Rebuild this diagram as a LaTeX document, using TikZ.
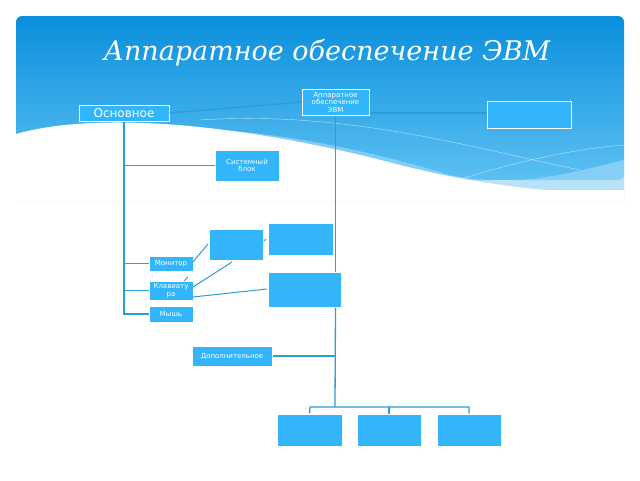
\documentclass[tikz,border=0pt]{standalone}
\usepackage{fontspec}
\setmainfont{DejaVu Sans}
\newfontfamily\titlefont{DejaVu Serif}
\definecolor{boxblue}{HTML}{33B5FC}
\definecolor{lineblue}{HTML}{2E9CD6}
\definecolor{topblue}{HTML}{0A8FDC}
\definecolor{midblue}{HTML}{5CC0F2}
\definecolor{band}{HTML}{9AD6F8}
\begin{document}
\begin{tikzpicture}[x=1pt,y=-1pt,
  bx/.style={draw=white,line width=1pt,fill=boxblue,text=white,inner sep=0pt,align=center,font=\fontsize{7}{7.5}\selectfont},
  ln/.style={draw=lineblue,line width=1.3pt}]
\useasboundingbox (0,0) rectangle (640,480);
\fill[white] (0,0) rectangle (640,480);
% header
\shade[top color=topblue,bottom color=midblue,rounded corners=6pt]
 (16,180) -- (16,16) -- (624,16) -- (624,180) -- cycle;
\fill[band,opacity=0.7] (16,150) .. controls (150,110) and (300,130) .. (450,175) .. controls (520,190) and (580,170) .. (624,160) -- (624,200) -- (16,200) -- cycle;
\fill[white] (16,134) .. controls (100,110) and (250,125) .. (400,165) .. controls (480,185) and (560,195) .. (624,192) -- (624,200) -- (16,200) -- cycle;
\fill[white] (16,190) rectangle (624,200);
\draw[white,opacity=0.6] (200,120) .. controls (350,110) and (480,150) .. (580,170);
\draw[white,opacity=0.6] (400,200) .. controls (480,170) and (560,150) .. (624,145);
\node[text=white,font=\titlefont\itshape\fontsize{27}{30}\selectfont] (title) at (327,53) {Аппаратное обеспечение ЭВМ};
% nodes
\node[bx,minimum width=90,minimum height=16,font=\fontsize{12}{13}\selectfont] (osn) at (124,113) {Основное};
\node[bx,minimum width=67,minimum height=26] (hw) at (335.5,102) {Аппаратное\\обеспечение\\ЭВМ};
\node[bx,minimum width=84,minimum height=27] (r) at (529,114.5) {};
\node[bx,minimum width=64,minimum height=31] (sys) at (247,165.5) {Системный\\блок};
\node[bx,minimum width=54,minimum height=31] (a) at (236,244.5) {};
\node[bx,minimum width=65,minimum height=32] (b) at (300.5,239) {};
\node[bx,minimum width=44,minimum height=15] (mon) at (171,263.5) {Монитор};
\node[bx,minimum width=44,minimum height=19] (kl) at (171,290.5) {Клавиату\\ра};
\node[bx,minimum width=73,minimum height=35] (c) at (304.5,289.5) {};
\node[bx,minimum width=44,minimum height=16] (mouse) at (171,314) {Мышь};
\node[bx,minimum width=80,minimum height=20] (dop) at (232,356) {Дополнительное};
\node[bx,minimum width=65,minimum height=32] (b1) at (309.5,430) {};
\node[bx,minimum width=64,minimum height=32] (b2) at (389,430) {};
\node[bx,minimum width=64,minimum height=32] (b3) at (469,430) {};
\coordinate (j) at (124,314);
\coordinate (t) at (335,407);
% connectors
\begin{scope}[on background layer/.style={}]
\end{scope}
\draw[ln] (osn.east) -- (hw.west);
\draw[ln] (hw.east |- osn.east) -- (r.west |- osn.east);
\draw[ln] (osn.south) -- (j) -- (mouse.west);
\draw[ln] (124,165.5) -- (sys.west);
\draw[ln] (124,263.5) -- (mon.west);
\draw[ln] (124,290.5) -- (kl.west);
\draw[ln] (hw.south) -- (c.north -| hw.south);
\draw[ln] (c.south -| hw.south) -- (t);
\draw[ln] (dop.east) -- (335,356);
\draw[ln] (b1.north) -- (310,407) -- (469,407) -- (b3.north);
\draw[ln] (b2.north) -- (389,407);
\draw[ln,line width=1pt] (193,262) -- (208,244);
\draw[ln,line width=1pt] (184,281) -- (188,277);
\draw[ln,line width=1pt] (193,287) -- (232,262);
\draw[ln,line width=1pt] (193,297) -- (267,289);
\draw[ln,line width=1pt] (264,241) -- (266,239);
% redraw nodes above lines
\node[bx,minimum width=67,minimum height=26] at (335.5,102) {Аппаратное\\обеспечение\\ЭВМ};
\end{tikzpicture}
\end{document}
